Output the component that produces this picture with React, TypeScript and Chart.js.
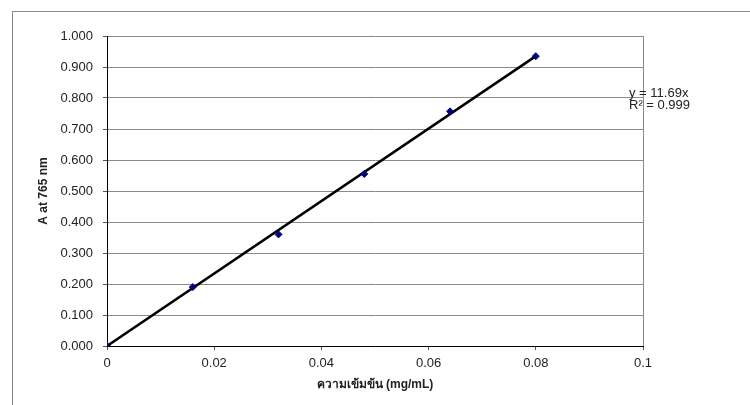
import React, { useEffect, useRef } from "react";
import { Chart, registerables } from "chart.js";

Chart.register(...registerables);

const concX = [0, 0.016, 0.032, 0.048, 0.064, 0.08];
const absY = [0, 0.19, 0.36, 0.555, 0.757, 0.935];
const trendX = [0, 0.08];
const trendY = [0, 0.935];
const equationLines = ["y = 11.69x", "R\u00B2 = 0.999"];
const xTitle = "ความเข้มข้น (mg/mL)";
const yTitle = "A at 765 nm";

const FONT = "'Liberation Sans', Arial, sans-serif";

const framePlugin = {
  id: "frame",
  afterDraw(chart: any) {
    const { ctx, chartArea } = chart;
    ctx.save();
    ctx.strokeStyle = "#8a8a8a";
    ctx.lineWidth = 1;
    ctx.beginPath();
    ctx.moveTo(Math.round(chartArea.right) + 0.5, chartArea.top);
    ctx.lineTo(Math.round(chartArea.right) + 0.5, chartArea.bottom);
    ctx.stroke();
    ctx.fillStyle = "#222";
    ctx.font = "13px " + FONT;
    ctx.textAlign = "left";
    ctx.textBaseline = "middle";
    equationLines.forEach((t, i) => {
      ctx.fillText(t, chartArea.right - 14, 93 + i * 12);
    });
    ctx.restore();
  },
};

export default function App() {
  const ref = useRef<HTMLCanvasElement>(null);
  useEffect(() => {
    if (!ref.current) return;
    const chart = new Chart(ref.current, {
      type: "scatter",
      data: {
        datasets: [
          {
            type: "line",
            data: trendX.map((x, i) => ({ x, y: trendY[i] })),
            borderColor: "#000",
            borderWidth: 2.5,
            pointRadius: 0,
            fill: false,
            order: 2,
          } as any,
          {
            type: "scatter",
            data: concX.map((x, i) => ({ x, y: absY[i] })),
            pointStyle: "rectRot",
            pointRadius: 3.5,
            backgroundColor: "#000080",
            borderColor: "#000080",
            borderWidth: 1,
            order: 1,
          },
        ],
      },
      options: {
        responsive: false,
        animation: false,
        layout: { padding: { left: 0, top: 36, right: 107, bottom: 0 } },
        plugins: {
          legend: { display: false },
          tooltip: { enabled: false },
        },
        scales: {
          x: {
            type: "linear",
            min: 0,
            max: 0.1,
            ticks: {
              stepSize: 0.02,
              color: "#222",
              font: { family: FONT, size: 13 },
              padding: 6,
              maxRotation: 0,
              callback: (v: any) => String(Number(Number(v).toFixed(2))),
            },
            grid: {
              drawOnChartArea: false,
              drawTicks: true,
              tickLength: 4,
              tickColor: "#555",
            },
            border: { color: "#000", width: 1 },
            title: {
              display: true,
              text: xTitle,
              color: "#222",
              font: { family: FONT, size: 12, weight: "bold" },
              padding: { top: 0, bottom: 13 },
            },
            afterFit: (s: any) => {
              s.height = 59;
            },
          },
          y: {
            type: "linear",
            min: 0,
            max: 1,
            ticks: {
              stepSize: 0.1,
              color: "#222",
              font: { family: FONT, size: 13 },
              padding: 10,
              callback: (v: any) => Number(v).toFixed(3),
            },
            grid: {
              color: "#8a8a8a",
              lineWidth: 1,
              drawTicks: true,
              tickLength: 4,
              tickColor: "#555",
            },
            border: { color: "#000", width: 1 },
            title: {
              display: true,
              text: yTitle,
              color: "#222",
              font: { family: FONT, size: 12, weight: "bold" },
              padding: { top: 36, bottom: 0 },
            },
            afterFit: (s: any) => {
              s.width = 107;
            },
          },
        },
      },
      plugins: [framePlugin],
    });
    return () => chart.destroy();
  }, []);
  return (
    <div
      style={{
        position: "fixed",
        left: 0,
        top: 0,
        width: 750,
        height: 405,
        background: "#fff",
      }}
    >
      <div
        style={{
          position: "absolute",
          left: 12,
          top: 11,
          right: 0,
          bottom: 0,
          borderLeft: "1px solid #8a8a8a",
          borderTop: "1px solid #8a8a8a",
        }}
      />
      <canvas
        ref={ref}
        width={750}
        height={405}
        style={{ position: "absolute", left: 0, top: 0, width: 750, height: 405 }}
      />
    </div>
  );
}
